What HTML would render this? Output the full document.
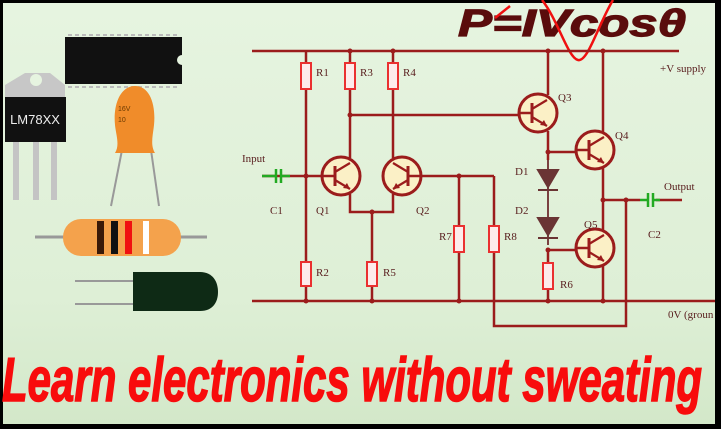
<!DOCTYPE html>
<html><head><style>
html,body{margin:0;padding:0;background:#000;}
svg{display:block;}
</style></head><body>
<svg width="721" height="429" viewBox="0 0 721 429" xmlns="http://www.w3.org/2000/svg">
<defs>
<linearGradient id="bg" x1="0" y1="0" x2="0" y2="1">
<stop offset="0" stop-color="#e6f4e0"/><stop offset="0.7" stop-color="#deefd6"/><stop offset="1" stop-color="#d3e8c9"/>
</linearGradient>
<g id="tr">
<circle cx="0" cy="0" r="19" fill="#fbf0c6" stroke="#9b1c1c" stroke-width="3"/>
<line x1="-19" y1="0" x2="-6" y2="0" stroke="#9b1c1c" stroke-width="2.5"/>
<line x1="-6" y1="-10" x2="-6" y2="10" stroke="#9b1c1c" stroke-width="3"/>
<path d="M-6,-4 L9,-13 M-6,4 L9,13" stroke="#9b1c1c" stroke-width="2.2" fill="none"/>
<path d="M9,13 L2,12 L6,7 Z" fill="#9b1c1c"/>
</g>
</defs>
<rect x="3" y="3" width="712" height="421" fill="url(#bg)"/>

<!-- left components -->
<rect x="65" y="37" width="117" height="47" fill="#111"/>
<path d="M182,55 A5,5 0 0 0 182,65 Z" fill="#e6f4e0"/>
<g stroke="#bbb" stroke-width="2" stroke-dasharray="4,3"><line x1="68" y1="35" x2="178" y2="35"/><line x1="68" y1="87" x2="178" y2="87"/></g>
<path d="M5,85 L25,73 L50,73 L65,85 L65,100 L5,100 Z" fill="#c7c7c7"/>
<circle cx="36" cy="80" r="6" fill="#e6f4e0"/>
<rect x="5" y="97" width="61" height="45" fill="#111"/>
<text x="35" y="124" font-family="Liberation Sans, sans-serif" font-size="13" fill="#eee" text-anchor="middle">LM78XX</text>
<g fill="#c4c4c4"><rect x="13" y="142" width="6" height="58"/><rect x="33" y="142" width="6" height="58"/><rect x="51" y="142" width="6" height="58"/></g>
<line x1="122" y1="150" x2="111" y2="206" stroke="#999" stroke-width="2"/>
<line x1="151" y1="150" x2="159" y2="206" stroke="#999" stroke-width="2"/>
<path d="M135,86 C150,86 156,105 154,125 C153,135 150,145 155,153 L115,153 C120,145 116,135 115,125 C113,105 120,86 135,86 Z" fill="#f08c2a"/>
<text x="118" y="111" font-family="Liberation Sans, sans-serif" font-size="7" fill="#6a3a00">16V</text>
<text x="118" y="122" font-family="Liberation Sans, sans-serif" font-size="7" fill="#6a3a00">10</text>
<line x1="35" y1="237" x2="207" y2="237" stroke="#999" stroke-width="3"/>
<rect x="63" y="219" width="118" height="37" rx="18" fill="#f4a24c"/>
<rect x="97" y="221" width="7" height="33" fill="#3a1a08"/>
<rect x="111" y="221" width="7" height="33" fill="#111"/>
<rect x="125" y="221" width="7" height="33" fill="#f01010"/>
<rect x="143" y="221" width="6" height="33" fill="#fff"/>
<line x1="75" y1="281" x2="135" y2="281" stroke="#999" stroke-width="2"/>
<line x1="75" y1="304" x2="135" y2="304" stroke="#999" stroke-width="2"/>
<path d="M133,272 L200,272 C213,272 218,282 218,292 C218,302 213,311 200,311 L133,311 Z" fill="#0e2a15"/>

<!-- title -->
<text x="458" y="36" font-family="Liberation Sans, sans-serif" font-weight="bold" font-style="italic" font-size="38" fill="#5a0c0c" stroke="#5a0c0c" stroke-width="1.2" textLength="228" lengthAdjust="spacingAndGlyphs">P=IVcosθ</text>
<path d="M542,0 C558,20 568,58 578,60 C588,62 598,25 613,0" fill="none" stroke="#f01010" stroke-width="2.5"/>
<line x1="495" y1="18" x2="510" y2="6" stroke="#f01010" stroke-width="2.5"/>

<!-- wires -->
<g stroke="#9b1c1c" stroke-width="2.5" fill="none">
<line x1="252" y1="51" x2="679" y2="51"/>
<line x1="252" y1="301" x2="715" y2="301"/>
<line x1="306" y1="51" x2="306" y2="301"/>
<line x1="350" y1="51" x2="350" y2="158"/>
<line x1="393" y1="51" x2="393" y2="158"/>
<line x1="350" y1="115" x2="520" y2="115"/>
<line x1="262" y1="176" x2="323" y2="176"/>
<polyline points="350,194 350,212 393,212 393,194"/>
<line x1="372" y1="212" x2="372" y2="301"/>
<line x1="420" y1="176" x2="494" y2="176"/>
<line x1="459" y1="176" x2="459" y2="301"/>
<polyline points="494,176 494,326 626,326 626,200"/>
<line x1="548" y1="51" x2="548" y2="95"/>
<line x1="548" y1="131" x2="548" y2="160"/>
<line x1="548" y1="152" x2="577" y2="152"/>
<line x1="548" y1="250" x2="577" y2="250"/>
<line x1="548" y1="250" x2="548" y2="301"/>
<line x1="603" y1="51" x2="603" y2="132"/>
<line x1="603" y1="168" x2="603" y2="230"/>
<line x1="603" y1="266" x2="603" y2="301"/>
<line x1="603" y1="200" x2="640" y2="200"/>
<line x1="656" y1="200" x2="682" y2="200"/>
</g>
<line x1="548" y1="160" x2="548" y2="245" stroke="#7a4040" stroke-width="2"/>
<g fill="#6a3434" stroke="#6a3434" stroke-width="2">
<path d="M538,170 L558,170 L548,187 Z"/><line x1="538" y1="190" x2="558" y2="190"/>
<path d="M538,218 L558,218 L548,235 Z"/><line x1="538" y1="238" x2="558" y2="238"/>
</g>
<g stroke="#22aa22" stroke-width="2.5">
<line x1="262" y1="176" x2="276" y2="176"/><line x1="276" y1="169" x2="276" y2="183"/><line x1="281" y1="169" x2="281" y2="183"/><line x1="281" y1="176" x2="290" y2="176"/>
<line x1="640" y1="200" x2="648" y2="200"/><line x1="648" y1="193" x2="648" y2="207"/><line x1="653" y1="193" x2="653" y2="207"/><line x1="653" y1="200" x2="660" y2="200"/>
</g>
<g fill="#fdebeb" stroke="#ea3030" stroke-width="2">
<rect x="301" y="63" width="10" height="26"/>
<rect x="345" y="63" width="10" height="26"/>
<rect x="388" y="63" width="10" height="26"/>
<rect x="301" y="262" width="10" height="24"/>
<rect x="367" y="262" width="10" height="24"/>
<rect x="454" y="226" width="10" height="26"/>
<rect x="489" y="226" width="10" height="26"/>
<rect x="543" y="263" width="10" height="26"/>
</g>
<use href="#tr" x="341" y="176"/>
<use href="#tr" transform="translate(402,176) scale(-1,1)"/>
<use href="#tr" x="538" y="113"/>
<use href="#tr" x="595" y="150"/>
<use href="#tr" x="595" y="248"/>
<g fill="#9b1c1c">
<circle cx="350" cy="51" r="2.5"/><circle cx="393" cy="51" r="2.5"/><circle cx="548" cy="51" r="2.5"/><circle cx="603" cy="51" r="2.5"/>
<circle cx="350" cy="115" r="2.5"/><circle cx="306" cy="176" r="2.5"/><circle cx="372" cy="212" r="2.5"/><circle cx="459" cy="176" r="2.5"/>
<circle cx="548" cy="152" r="2.5"/><circle cx="548" cy="250" r="2.5"/><circle cx="603" cy="200" r="2.5"/><circle cx="626" cy="200" r="2.5"/>
<circle cx="306" cy="301" r="2.5"/><circle cx="372" cy="301" r="2.5"/><circle cx="459" cy="301" r="2.5"/><circle cx="548" cy="301" r="2.5"/><circle cx="603" cy="301" r="2.5"/>
</g>
<g font-family="Liberation Serif, serif" font-size="11" fill="#5a2020">
<text x="316" y="76">R1</text><text x="360" y="76">R3</text><text x="403" y="76">R4</text>
<text x="316" y="276">R2</text><text x="383" y="276">R5</text>
<text x="439" y="240">R7</text><text x="504" y="240">R8</text><text x="560" y="288">R6</text>
<text x="270" y="214">C1</text><text x="316" y="214">Q1</text><text x="416" y="214">Q2</text>
<text x="558" y="101">Q3</text><text x="615" y="139">Q4</text><text x="584" y="228">Q5</text>
<text x="515" y="175">D1</text><text x="515" y="214">D2</text><text x="648" y="238">C2</text>
<text x="242" y="162">Input</text><text x="664" y="190">Output</text>
<text x="660" y="72">+V supply</text><text x="668" y="318">0V (groun</text>
</g>

<text x="2" y="401" font-family="Liberation Sans, sans-serif" font-weight="bold" font-style="italic" font-size="62" fill="#f80c0c" stroke="#f80c0c" stroke-width="1.5" textLength="700" lengthAdjust="spacingAndGlyphs">Learn electronics without sweating</text>
</svg>
</body></html>
